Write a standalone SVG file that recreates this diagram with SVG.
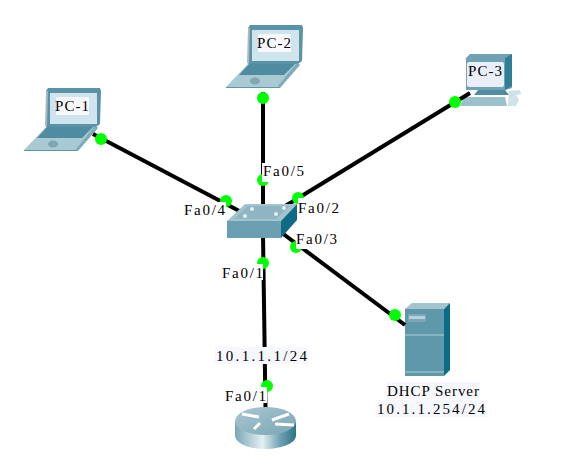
<svg xmlns="http://www.w3.org/2000/svg" width="588" height="471" viewBox="0 0 588 471">
<style>
.link{stroke:#000;stroke-width:4;fill:none}
.dot{fill:#00ff00}
.lb{font-family:"Liberation Serif","Noto Sans CJK SC",serif;font-size:15px;fill:#000}
.bg{fill:#fff}
.bt{fill:#f7f8fe}
</style>
<defs>
<linearGradient id="rg" x1="0" x2="1" y1="0" y2="0">
<stop offset="0" stop-color="#7aa7b5"/><stop offset=".45" stop-color="#e4eff2"/><stop offset=".75" stop-color="#6b9fb0"/><stop offset="1" stop-color="#2f7488"/>
</linearGradient>
<linearGradient id="rt" x1="0" x2="1" y1="0" y2="1">
<stop offset="0" stop-color="#a9c8d2"/><stop offset="1" stop-color="#7ba5b4"/>
</linearGradient>
<g id="laptop">
<path d="M46 91 L48 88 L100 88 L101 91 L100 124 L96 127 L46 127 Z" fill="#5a93a8"/>
<path d="M46 91 L45 126 L47 127 L48 91 Z" fill="#a9b9c0"/>
<rect x="50" y="93" width="47" height="31" fill="#cfe4ec"/>
<rect x="56" y="97" width="33" height="18" fill="#f8f9ff"/>
<path d="M24 150 L78 150 L98 127 L46 127 Z" fill="#a9c9d3"/>
<path d="M37 138 L82 138 L93 127 L47 127 Z" fill="#4f8ba1"/>
<path d="M24 150 L78 150 L78 151 L24 151 Z" fill="#5c97aa"/>
<path d="M78 151 L98 128 L95 126 L76 149 Z" fill="#7cabb9"/>
<ellipse cx="53" cy="144" rx="5" ry="3.500" fill="#7fa6b2"/>
</g>
</defs>
<rect width="588" height="471" fill="#fff"/>
<g id="pc-1">
<use href="#laptop"/>
<text class="lb" x="55" y="111" textLength="34" lengthAdjust="spacing">PC-1</text>
</g>
<g id="pc-2">
<use href="#laptop" x="202" y="-63"/>
<text class="lb" x="257" y="48" textLength="34" lengthAdjust="spacing">PC-2</text>
</g>
<g id="pc-3">
<path d="M466 58 L470 54 L512 54 L512 88 L505 90 L466 90 Z" fill="#6fa3b4"/>
<path d="M505 58 L512 54 L512 86 L505 90 Z" fill="#2f7f97"/>
<rect x="467" y="62" width="37" height="25" rx="2" fill="#e9eef8"/>
<path d="M478 90 L505 90 L509 95 L474 95 Z" fill="#4f8ba1"/>
<path d="M464 97 L505 97 L507 106 L460 106 Z" fill="#9cc0cc"/>
<path d="M509 91 L520 90 L521 94 L516 95 L519 100 L516 106 L508 106 Z" fill="#cfe2e8"/>
<text class="lb" x="468" y="76" textLength="34" lengthAdjust="spacing">PC-3</text>
</g>
<g id="server">
<path d="M405 309 L412 303 L450 303 L444 309 Z" fill="#a3c3cf"/>
<rect x="405" y="309" width="39" height="67" fill="#5f98ab"/>
<rect x="405" y="334" width="39" height="2" fill="#88b3c1"/>
<rect x="405" y="371" width="39" height="2" fill="#88b3c1"/>
<rect x="408" y="314" width="18" height="8" fill="#7ba8b7"/>
<rect x="409" y="316" width="16" height="3" fill="#b9d2da"/>
<path d="M444 309 L450 303 L450 370 L444 376 Z" fill="#0f6b85"/>
</g>
<g id="connectors">
<path class="link" d="M93 134 L245 214"/>
<path class="link" d="M263 92 L263 212"/>
<path class="link" d="M470 93 L282 208"/>
<path class="link" d="M405 325 L278 230"/>
<path class="link" d="M263 235 L265.500 408"/>
<circle class="dot" cx="101" cy="139" r="6"/>
<circle class="dot" cx="263" cy="98" r="6"/>
<circle class="dot" cx="455" cy="102" r="6"/>
<circle class="dot" cx="395" cy="315" r="6"/>
<circle class="dot" cx="263" cy="180" r="6"/>
<circle class="dot" cx="226" cy="201" r="6"/>
<circle class="dot" cx="298" cy="198" r="6"/>
<circle class="dot" cx="296" cy="247" r="6"/>
<circle class="dot" cx="263" cy="263" r="6"/>
<circle class="dot" cx="267" cy="386" r="6"/>
</g>
<g id="switch">
<path d="M227 221 L245 204 L297 204 L281 221 Z" fill="#a3c4cf"/>
<path d="M248 206 L290 206 L276 219 L234 219 Z" fill="#8fb5c2"/>
<circle cx="252" cy="209" r="2" fill="#e6eff2"/>
<circle cx="284" cy="208" r="2" fill="#e6eff2"/>
<circle cx="245" cy="216" r="2" fill="#e6eff2"/>
<circle cx="276" cy="214" r="2" fill="#e6eff2"/>
<rect x="227" y="221" width="54" height="17" fill="#6ba0b2"/>
<path d="M281 221 L297 204 L297 220 L281 238 Z" fill="#0f6b85"/>
</g>
<g id="router">
<path d="M235 422 L235 436 C236 444 250 449 265 449 C280 449 295 444 296 436 L296 422 Z" fill="url(#rg)"/>
<ellipse cx="265.500" cy="421" rx="30.500" ry="14" fill="url(#rt)"/>
<path d="M242 414 L259 417 M289 414 L272 420 M275 424 L294 425 M260 423 L254 429" stroke="#fff" stroke-width="3" fill="none"/>
</g>
<g id="labels">
<rect class="bg" x="262" y="163" width="43" height="19"/><text class="lb" x="263" y="176" textLength="41" lengthAdjust="spacing">Fa0/5</text>
<rect class="bg" x="183" y="202" width="43" height="15"/><text class="lb" x="184" y="215" textLength="41" lengthAdjust="spacing">Fa0/4</text>
<rect class="bg" x="298" y="198" width="43" height="17"/><text class="lb" x="298" y="213" textLength="41" lengthAdjust="spacing">Fa0/2</text>
<rect class="bg" x="296" y="231" width="43" height="18"/><text class="lb" x="296" y="244" textLength="41" lengthAdjust="spacing">Fa0/3</text>
<rect class="bg" x="221" y="264" width="42" height="16"/><text class="lb" x="222" y="278" textLength="41" lengthAdjust="spacing">Fa0/1</text>
<rect class="bg" x="224" y="387" width="43" height="16"/><text class="lb" x="225" y="401" textLength="41" lengthAdjust="spacing">Fa0/1</text>
<rect class="bt" x="215" y="347" width="93" height="17"/><text class="lb" x="216" y="361" textLength="91" lengthAdjust="spacing">10.1.1.1/24</text>
<rect class="bt" x="386" y="382" width="94" height="17"/><text class="lb" x="387" y="396" textLength="92" lengthAdjust="spacing">DHCP Server</text>
<rect class="bt" x="377" y="400" width="109" height="17"/><text class="lb" x="377" y="414" textLength="108" lengthAdjust="spacing">10.1.1.254/24</text>
</g>
</svg>
